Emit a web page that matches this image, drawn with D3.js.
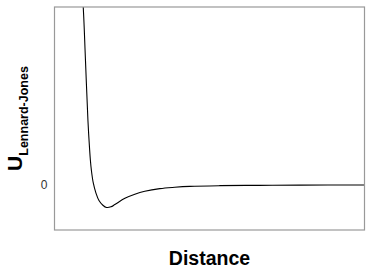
<!DOCTYPE html>
<html>
<head>
<meta charset="utf-8">
<script src="https://cdn.jsdelivr.net/npm/d3@7"></script>
<style>
  body { margin: 0; background: #fff; }
  text { font-family: "Liberation Sans", Arial, sans-serif; }
</style>
</head>
<body>
<svg width="383" height="270"></svg>
<script>
// distance (in units of sigma) and potential (in units of epsilon)
var distance = [0.90, 0.913, 0.933, 0.955, 0.9705, 0.977, 0.9857, 1.003, 1.027, 1.054, 1.089, 1.122,
  1.161, 1.196, 1.286, 1.375, 1.464, 1.598, 1.732, 1.866, 2.134, 2.491, 2.848, 3.43];
var energy = [8.7, 7.91, 5.56, 2.89, 1.56, 1.11, 0.67, 0.09, -0.36, -0.69, -0.90, -1.0,
  -0.97, -0.87, -0.59, -0.41, -0.28, -0.16, -0.10, -0.06, -0.03, -0.015, -0.005, 0];
var yTicks = [0];

var svg = d3.select('svg');
var padding = {t: 7, r: 18.5, b: 40, l: 54.5};
var chartWidth = 383 - padding.l - padding.r;
var chartHeight = 270 - padding.t - padding.b;

var data = distance.map(function(d, i) { return {r: d, u: energy[i]}; });

var xScale = d3.scaleLinear()
    .domain([0.656, 3.43])
    .range([0, chartWidth]);

var yScale = d3.scaleLinear()
    .domain([-2.0, 7.91])
    .range([chartHeight, 0]);

var chartG = svg.append('g')
    .attr('transform', 'translate(' + [padding.l, padding.t] + ')');

chartG.append('clipPath')
    .attr('id', 'clip')
  .append('rect')
    .attr('width', chartWidth)
    .attr('height', chartHeight);

var line = d3.line()
    .x(function(d) { return xScale(d.r); })
    .y(function(d) { return yScale(d.u); })
    .curve(d3.curveCatmullRom.alpha(0.5));

chartG.append('path')
    .datum(data)
    .attr('clip-path', 'url(#clip)')
    .attr('d', line)
    .attr('fill', 'none')
    .attr('stroke', '#000')
    .attr('stroke-width', 1.1);

// y axis: only the zero label, no ticks
var yAxis = d3.axisLeft(yScale).tickValues(yTicks).tickSize(0).tickPadding(7);
var yG = chartG.append('g')
    .attr('class', 'y-axis')
    .call(yAxis);
yG.select('.domain').remove();
yG.selectAll('text')
    .style('fill', '#333')
    .style('font-size', '12px');

// panel border
chartG.append('rect')
    .attr('width', chartWidth)
    .attr('height', chartHeight)
    .attr('fill', 'none')
    .attr('stroke', '#999')
    .attr('stroke-width', 1.2);

svg.append('text')
    .attr('class', 'x-label')
    .attr('x', padding.l + chartWidth / 2)
    .attr('y', 265)
    .attr('text-anchor', 'middle')
    .style('font-size', '19.5px')
    .style('font-weight', 'bold')
    .text('Distance');

var yLabel = svg.append('text')
    .attr('class', 'y-label')
    .attr('transform', 'translate(22,' + (padding.t + chartHeight / 2) + ') rotate(-90)')
    .attr('text-anchor', 'middle')
    .style('font-weight', 'bold');
yLabel.append('tspan')
    .style('font-size', '21px')
    .text('U');
yLabel.append('tspan')
    .attr('dy', 6)
    .style('font-size', '12.5px')
    .text('Lennard-Jones');
</script>
</body>
</html>
